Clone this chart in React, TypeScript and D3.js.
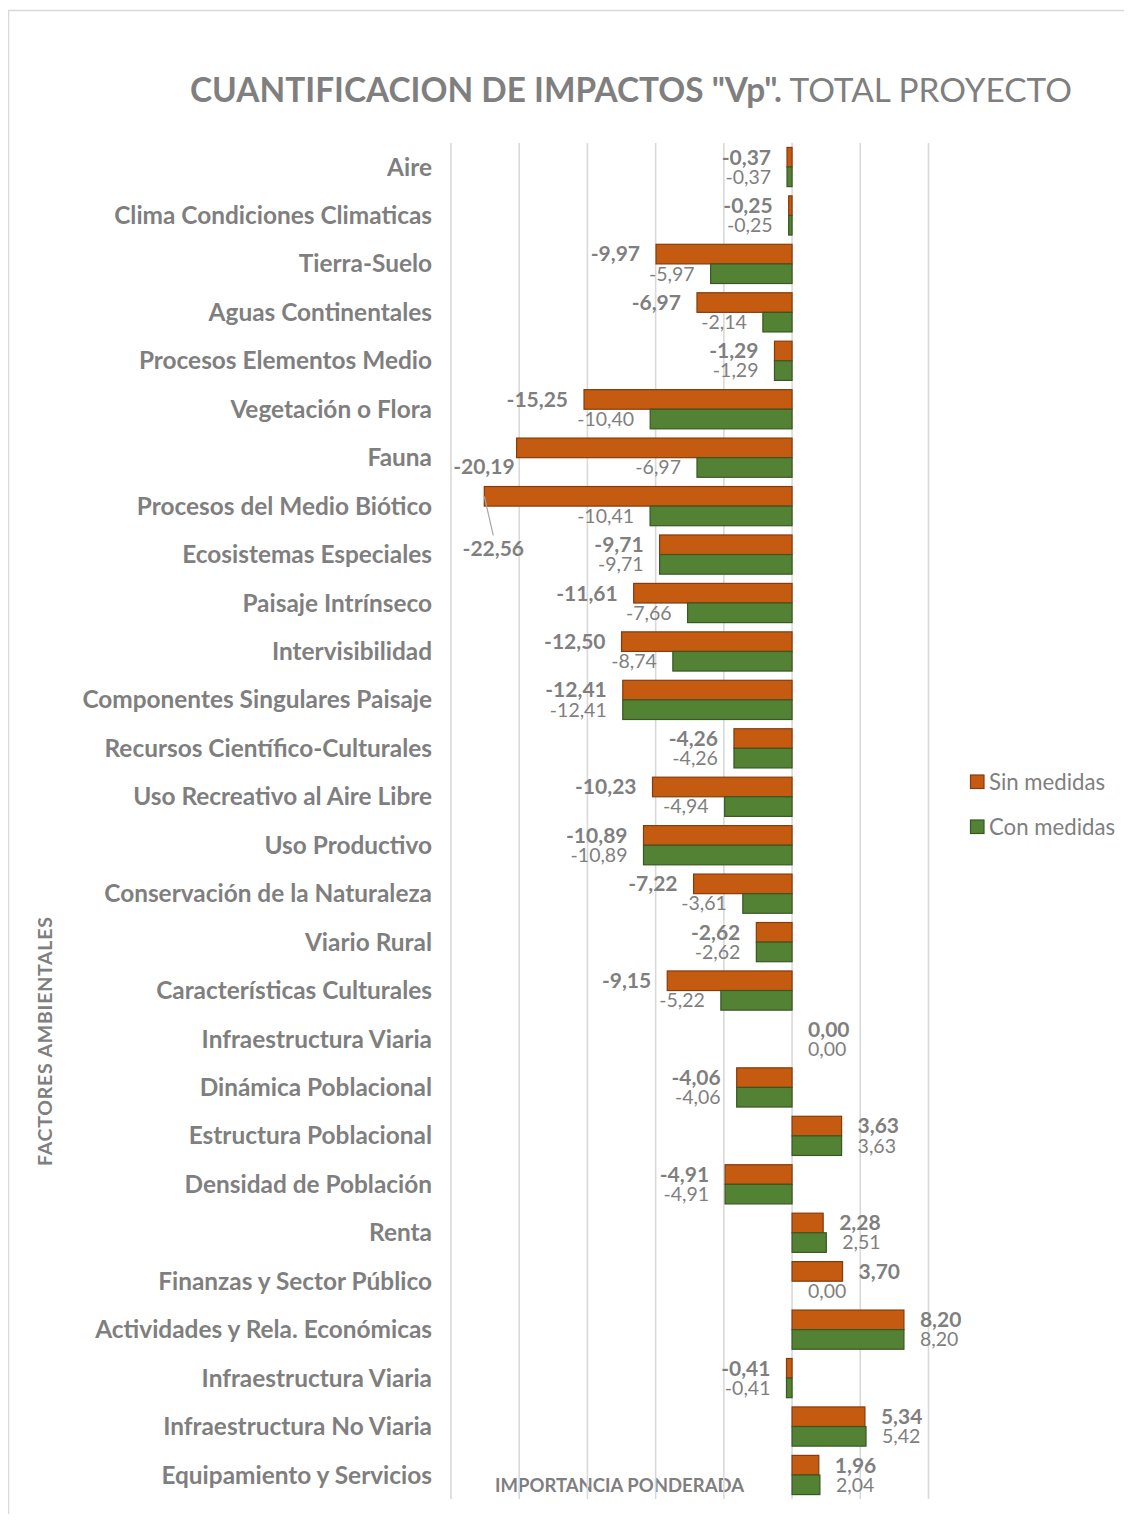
import React from "react";
import * as d3 from "d3";

const categories = [
  "Aire",
  "Clima Condiciones Climaticas",
  "Tierra-Suelo",
  "Aguas Continentales",
  "Procesos Elementos Medio",
  "Vegetación o Flora",
  "Fauna",
  "Procesos del Medio Biótico",
  "Ecosistemas Especiales",
  "Paisaje Intrínseco",
  "Intervisibilidad",
  "Componentes Singulares Paisaje",
  "Recursos Científico-Culturales",
  "Uso Recreativo al Aire Libre",
  "Uso Productivo",
  "Conservación de la Naturaleza",
  "Viario Rural",
  "Características Culturales",
  "Infraestructura Viaria",
  "Dinámica Poblacional",
  "Estructura Poblacional",
  "Densidad de Población",
  "Renta",
  "Finanzas y Sector Público",
  "Actividades y Rela. Económicas",
  "Infraestructura Viaria",
  "Infraestructura No Viaria",
  "Equipamiento y Servicios",
];

const sinMedidas = [
  -0.37, -0.25, -9.97, -6.97, -1.29, -15.25, -20.19, -22.56, -9.71, -11.61,
  -12.5, -12.41, -4.26, -10.23, -10.89, -7.22, -2.62, -9.15, 0.0, -4.06, 3.63,
  -4.91, 2.28, 3.7, 8.2, -0.41, 5.34, 1.96,
];

const conMedidas = [
  -0.37, -0.25, -5.97, -2.14, -1.29, -10.4, -6.97, -10.41, -9.71, -7.66, -8.74,
  -12.41, -4.26, -4.94, -10.89, -3.61, -2.62, -5.22, 0.0, -4.06, 3.63, -4.91,
  2.51, 0.0, 8.2, -0.41, 5.42, 2.04,
];

const gridValues = [-25, -20, -15, -10, -5, 0, 5, 10];
const seriesNames = ["Sin medidas", "Con medidas"];

const titleBold = 'CUANTIFICACION DE IMPACTOS "Vp".';
const titleNormal = " TOTAL PROYECTO";
const xAxisTitle = "IMPORTANCIA PONDERADA";
const yAxisTitle = "FACTORES AMBIENTALES";

const FONT = "Lato, 'Open Sans', sans-serif";
const GRAY = "#7f7f7f";
const ORANGE = "#C55A11";
const ORANGE_STROKE = "#843C0C";
const GREEN = "#548235";
const GREEN_STROKE = "#385723";

const fmt = (v: number) => v.toFixed(2).replace(".", ",");

export default function App() {
  const W = 1116;
  const H = 1506;
  const x = d3.scaleLinear().domain([-25, 10]).range([451, 928.5]);
  const y = d3
    .scaleBand<number>()
    .domain(categories.map((_, i) => i))
    .range([142.8, 1499.2]);
  const barH = 19.6;
  const gap = 16;

  // special label adjustments for crowded bars (index -> offset)
  const sinLabelShift: Record<number, { dx: number; dy: number; leader?: boolean; anchor?: string }> = {
    6: { dx: 14, dy: 19 },
    7: { dx: 25, dy: 52, leader: true, anchor: "middle" },
  };

  const series = [
    { name: seriesNames[0], values: sinMedidas, fill: ORANGE, stroke: ORANGE_STROKE, off: -1, bold: true },
    { name: seriesNames[1], values: conMedidas, fill: GREEN, stroke: GREEN_STROKE, off: 0, bold: false },
  ];

  return (
    <svg width={W} height={H} style={{ display: "block" }}>
      <g transform="translate(-8,-8)">
        <rect x={8.5} y={10.5} width={1200} height={1600} fill="#fff" stroke="#d9d9d9" strokeWidth={1.5} />
        <text
          x={631}
          y={102}
          textAnchor="middle"
          fill={GRAY}
          fontFamily={FONT}
          fontSize={33.4}
        >
          <tspan fontWeight="bold">{titleBold}</tspan>
          <tspan>{titleNormal}</tspan>
        </text>

        {/* x axis title (behind gridlines) */}
        <text
          x={619.5}
          y={1492}
          textAnchor="middle"
          fill={GRAY}
          fontFamily={FONT}
          fontSize={18.5}
          fontWeight="bold"
          textLength={249}
          lengthAdjust="spacing"
        >
          {xAxisTitle}
        </text>

        {gridValues.map((v) => (
          <line key={v} x1={x(v)} x2={x(v)} y1={143} y2={1499} stroke="#d9d9d9" strokeWidth={1.6} />
        ))}

        <text
          transform={`translate(52,1041.5) rotate(-90)`}
          textAnchor="middle"
          fill={GRAY}
          fontFamily={FONT}
          fontSize={19.5}
          fontWeight="bold"
          textLength={249}
          lengthAdjust="spacing"
        >
          {yAxisTitle}
        </text>

        {categories.map((c, i) => (
          <text
            key={"c" + i}
            x={432}
            y={(y(i) as number) + y.bandwidth() / 2}
            dy="0.35em"
            textAnchor="end"
            fill={GRAY}
            fontFamily={FONT}
            fontSize={24.4}
            fontWeight="bold"
          >
            {c}
          </text>
        ))}

        {series.map((s) =>
          s.values.map((v, i) => {
            const cy = (y(i) as number) + y.bandwidth() / 2;
            const y0 = cy + s.off * barH;
            const x0 = Math.min(x(0), x(v));
            const w = Math.abs(x(v) - x(0));
            return w > 0 ? (
              <rect
                key={s.name + i}
                x={x0}
                y={y0}
                width={w}
                height={barH}
                fill={s.fill}
                stroke={s.stroke}
                strokeWidth={1.2}
              />
            ) : null;
          })
        )}

        {series.map((s, si) =>
          s.values.map((v, i) => {
            const cy = (y(i) as number) + y.bandwidth() / 2;
            const ly = cy + s.off * barH + barH / 2;
            let lx = v < 0 ? x(v) - gap : x(v) + gap;
            let anchor = v < 0 ? "end" : "start";
            let ty = ly;
            const shift = si === 0 ? sinLabelShift[i] : undefined;
            let leader = null;
            if (shift) {
              lx += shift.dx;
              ty += shift.dy;
              if (shift.anchor) anchor = shift.anchor;
              if (shift.leader) {
                leader = (
                  <line
                    x1={x(v)}
                    y1={ly}
                    x2={lx}
                    y2={ty - 13}
                    stroke="#a6a6a6"
                    strokeWidth={1.2}
                  />
                );
              }
            }
            return (
              <g key={"l" + s.name + i}>
                {leader}
                <text
                  x={lx}
                  y={ty}
                  dy="0.35em"
                  textAnchor={anchor}
                  fill={GRAY}
                  fontFamily={FONT}
                  fontSize={s.bold ? 21 : 19.5}
                  fontWeight={s.bold ? "bold" : "normal"}
                >
                  {fmt(v)}
                </text>
              </g>
            );
          })
        )}

        {series.map((s, si) => (
          <g key={"lg" + si} transform={`translate(970,${782 + si * 45})`}>
            <rect x={0.5} y={-7} width={13.5} height={13.5} fill={s.fill} stroke={s.stroke} strokeWidth={1.2} />
            <text x={19} y={0} dy="0.35em" fill={GRAY} fontFamily={FONT} fontSize={22.2}>
              {s.name}
            </text>
          </g>
        ))}
      </g>
    </svg>
  );
}
